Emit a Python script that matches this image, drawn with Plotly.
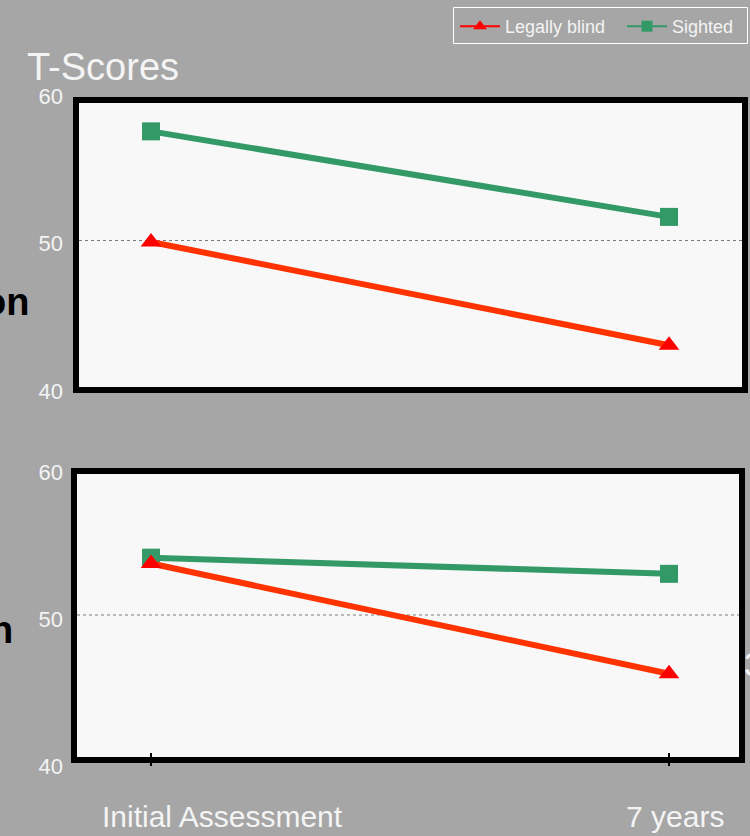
import plotly.graph_objects as go

# ---- data -------------------------------------------------------------
timepoints = ["Initial Assessment", "7 years"]
series_names = ["Legally blind", "Sighted"]

top_blind = [49.9, 42.9]
top_sighted = [57.4, 51.6]
bottom_blind = [53.5, 46.0]
bottom_sighted = [53.9, 52.8]

y_ticks = [40, 50, 60]
title_text = "T-Scores"

# ---- styling ----------------------------------------------------------
W, H = 750, 836
BG = "#a6a6a6"
PANEL = "#f8f8f8"
RED_LINE = "#ff3300"
RED_MARK = "#ff0000"
GREEN = "#339966"
WHITE = "#f4f4f4"
SANS = "Liberation Sans, Arial, sans-serif"


def px_x(p):
    return p / W


def px_y(p):
    return 1 - p / H


fig = go.Figure()

panels = [
    ("x", "y", top_blind, top_sighted),
    ("x2", "y2", bottom_blind, bottom_sighted),
]
for xa, ya, blind, sighted in panels:
    fig.add_trace(go.Scatter(
        x=timepoints, y=sighted, xaxis=xa, yaxis=ya, mode="lines+markers",
        line=dict(color=GREEN, width=6),
        marker=dict(symbol="square", size=18, color=GREEN),
        showlegend=False, cliponaxis=False))
    fig.add_trace(go.Scatter(
        x=timepoints, y=blind, xaxis=xa, yaxis=ya, mode="lines+markers",
        line=dict(color=RED_LINE, width=6),
        marker=dict(symbol="triangle-up", size=18, color=RED_MARK),
        showlegend=False, cliponaxis=False))

# legend keys (thin line + small marker), one per legend box
fig.add_trace(go.Scatter(
    x=[None], y=[None], name=series_names[0], mode="lines+markers",
    line=dict(color=RED_MARK, width=2), legend="legend",
    marker=dict(symbol="triangle-up", size=12, color=RED_MARK)))
fig.add_trace(go.Scatter(
    x=[None], y=[None], name=series_names[1], mode="lines+markers",
    line=dict(color=GREEN, width=2), legend="legend2",
    marker=dict(symbol="square", size=11, color=GREEN)))

x_range = [-0.141, 1.139]
x_dom = [px_x(78), px_x(741)]

common_x = dict(type="category", range=x_range, domain=x_dom,
                showgrid=False, zeroline=False, showline=False,
                showticklabels=False, fixedrange=True, automargin=False)
common_y = dict(range=[40, 60], tickvals=y_ticks, showgrid=False,
                zeroline=False, showline=False, ticks="",
                tickfont=dict(family=SANS, size=22, color=WHITE),
                ticklabelstandoff=14, fixedrange=True, automargin=False)

legend_common = dict(orientation="h", xanchor="left", y=px_y(8), yanchor="top",
                     bgcolor="rgba(0,0,0,0)", borderwidth=0,
                     font=dict(family=SANS, size=18, color=WHITE),
                     itemwidth=40)

fig.update_layout(
    width=W, height=H,
    margin=dict(l=0, r=0, t=0, b=0, pad=0, autoexpand=False),
    paper_bgcolor=BG,
    plot_bgcolor="rgba(0,0,0,0)",
    xaxis=dict(**common_x, anchor="y", ticks=""),
    yaxis=dict(**common_y, anchor="x", domain=[px_y(388), px_y(93)],
               ticklabelshift=3),
    xaxis2=dict(**common_x, anchor="free", position=px_y(752),
                ticks="outside", ticklen=13, tickwidth=1.5, tickcolor="black"),
    yaxis2=dict(**common_y, anchor="x2", domain=[px_y(762), px_y(468)],
                ticklabelshift=4),
    legend=dict(**legend_common, x=px_x(455)),
    legend2=dict(**legend_common, x=px_x(622)),
    showlegend=True,
)

# panel frames (filled, thick black border), the 50-level reference line
# and the outline around the legend keys
frames = [
    (76, 100, 745, 390, "y", (79, 742)),
    (74, 471, 742, 760, "y2", (77, 739)),
]
shapes = []
for x0, y0, x1, y1, yref, (gx0, gx1) in frames:
    shapes.append(dict(type="rect", xref="paper", yref="paper",
                       x0=px_x(x0), x1=px_x(x1), y0=px_y(y1), y1=px_y(y0),
                       fillcolor=PANEL, line=dict(color="black", width=6),
                       layer="below"))
    shapes.append(dict(type="line", xref="paper", yref=yref,
                       x0=px_x(gx0), x1=px_x(gx1), y0=50, y1=50,
                       line=dict(color="#7a7a7a", width=1, dash="dot"),
                       layer="below"))
shapes.append(dict(type="rect", xref="paper", yref="paper",
                   x0=px_x(453.5), x1=px_x(747.5), y0=px_y(43.5), y1=px_y(7.5),
                   line=dict(color="white", width=1), layer="below"))
fig.update_layout(shapes=shapes)

annotations = [
    dict(text=title_text, xref="paper", yref="paper", x=px_x(25), y=px_y(67),
         xanchor="left", yanchor="middle", showarrow=False,
         font=dict(family=SANS, size=38, color=WHITE)),
    # category labels under the lower panel
    dict(text=timepoints[0], xref="x2", yref="paper", x=timepoints[0], xshift=71,
         y=px_y(816), yanchor="middle", xanchor="center", showarrow=False,
         font=dict(family=SANS, size=30, color=WHITE)),
    dict(text=timepoints[1], xref="x2", yref="paper", x=timepoints[1], xshift=6,
         y=px_y(816), yanchor="middle", xanchor="center", showarrow=False,
         font=dict(family=SANS, size=30, color=WHITE)),
    # row labels running off the left edge
    dict(text="<b>on</b>", xref="paper", yref="paper", x=px_x(31), y=px_y(302),
         xanchor="right", yanchor="middle", showarrow=False,
         font=dict(family=SANS, size=38, color="black")),
    dict(text="<b>n</b>", xref="paper", yref="paper", x=px_x(15), y=px_y(630),
         xanchor="right", yanchor="middle", showarrow=False,
         font=dict(family=SANS, size=38, color="black")),
    # text running off the right edge
    dict(text="3", xref="paper", yref="paper", x=px_x(742), y=px_y(664),
         xanchor="left", yanchor="middle", showarrow=False,
         font=dict(family=SANS, size=34, color=WHITE)),
]
fig.update_layout(annotations=annotations)

fig.write_html("out.html")
